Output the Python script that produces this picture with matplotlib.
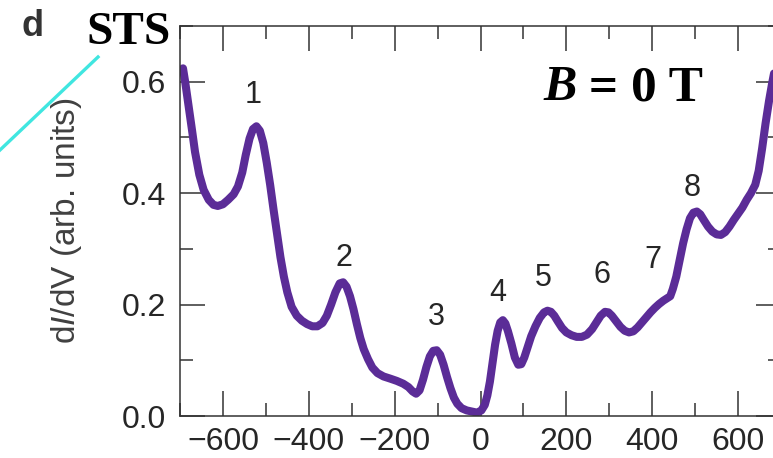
import matplotlib
matplotlib.use("Agg")
import matplotlib.pyplot as plt
from matplotlib.lines import Line2D
from matplotlib.ticker import MultipleLocator

# Bias voltage (mV) and differential conductance (arb. units)
bias_mv = [
    -693, -688, -680, -672, -665, -655, -645, -633, -622, -612, -600, -588,
    -575, -565, -555, -547, -538, -530, -522, -514, -506, -498, -490, -482,
    -474, -466, -458, -450, -440, -428, -416, -404, -392, -380, -368, -358,
    -348, -338, -328, -320, -312, -304, -296, -288, -280, -272, -262, -252,
    -240, -226, -210, -195, -180, -168, -158, -150, -142, -134, -126, -118,
    -110, -102, -94, -86, -78, -70, -62, -54, -44, -32, -20, -8,
    2, 10, 16, 22, 28, 34, 40, 46, 52, 58, 64, 72,
    80, 88, 95, 102, 110, 118, 128, 138, 148, 156, 164, 172,
    180, 190, 200, 212, 224, 236, 248, 260, 270, 280, 290, 298,
    306, 316, 326, 336, 346, 356, 366, 376, 386, 396, 406, 416,
    426, 436, 442, 448, 456, 464, 472, 480, 488, 496, 504, 512,
    520, 530, 540, 550, 560, 570, 580, 590, 600, 610, 620, 630,
    640, 648, 656, 664, 672, 680, 690,
]
didv = [
    0.624, 0.600, 0.557, 0.513, 0.474, 0.433, 0.406, 0.388, 0.379, 0.377, 0.380, 0.388,
    0.398, 0.412, 0.437, 0.468, 0.498, 0.515, 0.520, 0.512, 0.490, 0.455, 0.415, 0.370,
    0.328, 0.285, 0.250, 0.222, 0.196, 0.180, 0.171, 0.165, 0.161, 0.161, 0.167, 0.180,
    0.200, 0.222, 0.238, 0.240, 0.232, 0.215, 0.192, 0.165, 0.140, 0.120, 0.102, 0.087,
    0.077, 0.071, 0.067, 0.063, 0.058, 0.052, 0.044, 0.040, 0.046, 0.065, 0.088, 0.107,
    0.117, 0.118, 0.110, 0.092, 0.070, 0.050, 0.033, 0.022, 0.014, 0.010, 0.008, 0.006,
    0.010, 0.020, 0.037, 0.062, 0.095, 0.128, 0.153, 0.168, 0.172, 0.166, 0.152, 0.130,
    0.105, 0.092, 0.093, 0.105, 0.124, 0.143, 0.161, 0.176, 0.186, 0.189, 0.187, 0.180,
    0.170, 0.158, 0.150, 0.145, 0.142, 0.142, 0.146, 0.156, 0.168, 0.180, 0.187, 0.186,
    0.180, 0.170, 0.160, 0.153, 0.150, 0.152, 0.159, 0.168, 0.177, 0.186, 0.194, 0.201,
    0.207, 0.212, 0.215, 0.228, 0.250, 0.280, 0.310, 0.335, 0.355, 0.365, 0.367, 0.362,
    0.352, 0.340, 0.331, 0.326, 0.325, 0.330, 0.340, 0.352, 0.363, 0.374, 0.388, 0.400,
    0.415, 0.440, 0.480, 0.525, 0.565, 0.600, 0.640,
]

# Numbered peak labels
peak_labels = ["1", "2", "3", "4", "5", "6", "7", "8"]
peak_label_x = [-530, -319, -102, 40, 147, 284, 402, 493]
peak_label_y = [0.576, 0.283, 0.178, 0.221, 0.248, 0.253, 0.280, 0.409]

x_ticks = [-600, -400, -200, 0, 200, 400, 600]
y_ticks = [0.0, 0.2, 0.4, 0.6]
y_tick_labels = ["0.0", "0.2", "0.4", "0.6"]

plt.rcParams["font.family"] = ["Liberation Sans", "DejaVu Sans"]
plt.rcParams["mathtext.fontset"] = "custom"
plt.rcParams["mathtext.rm"] = "Liberation Sans"
plt.rcParams["mathtext.it"] = "Liberation Sans:italic"

W, H = 773, 458
fig = plt.figure(figsize=(W / 100, H / 100), dpi=100)
ax = fig.add_axes([180 / W, 42 / H, 601 / W, 390 / H])

line_color = "#5B2C97"
ax.plot(bias_mv, didv, color=line_color, lw=5.8,
        solid_joinstyle="round", solid_capstyle="round")

ax.set_xlim(-700, 700)
ax.set_ylim(0, 0.7)
ax.set_xticks(x_ticks)
ax.set_xticklabels(["\u2212" + str(-v) if v < 0 else str(v) for v in x_ticks])
ax.set_yticks(y_ticks)
ax.set_yticklabels(y_tick_labels)
ax.xaxis.set_minor_locator(MultipleLocator(100))
ax.yaxis.set_minor_locator(MultipleLocator(0.1))

spine_color = "#333333"
for s in ax.spines.values():
    s.set_color(spine_color)
    s.set_linewidth(1.1)
ax.tick_params(which="both", direction="in", top=True, right=True,
               color=spine_color, width=1.1)
ax.tick_params(which="major", length=18)
ax.tick_params(which="minor", length=9.5)
ax.tick_params(axis="both", which="major", labelsize=23, labelcolor="#262626")
ax.tick_params(axis="y", which="major", pad=10)
ax.tick_params(axis="x", which="major", pad=8)

ax.set_ylabel("d$I$/dV (arb. units)", fontsize=24, color="#404040", labelpad=27)

for lab, lx, ly in zip(peak_labels, peak_label_x, peak_label_y):
    ax.text(lx, ly, lab, fontsize=22, color="#262626", ha="center", va="center")

# Panel letter and technique tag
fig.text(33 / W, 1 - 26 / H, "d", fontsize=26, fontweight="bold",
         color="#333333", ha="center", va="center")
fig.text(129 / W, 1 - 33 / H, "STS", fontsize=34, fontweight="bold",
         family="Liberation Serif", color="black", ha="center", va="center")
fig.add_artist(Line2D([0, 98 / W], [1 - 150 / H, 1 - 57 / H],
                      transform=fig.transFigure, color="#40E6E0", lw=2.4))

# Field annotation: italic B followed by upright text
tb = fig.text(543 / W, 1 - 100 / H, "B", fontsize=36, fontweight="bold",
              fontstyle="italic", family="Liberation Serif", color="black",
              ha="left", va="baseline")
ax.annotate(" = 0 T", xy=(1, 0), xycoords=tb, fontsize=37, fontweight="bold",
            family="Liberation Serif", color="black", ha="left", va="bottom",
            annotation_clip=False)

fig.savefig("out.png", dpi=100)
